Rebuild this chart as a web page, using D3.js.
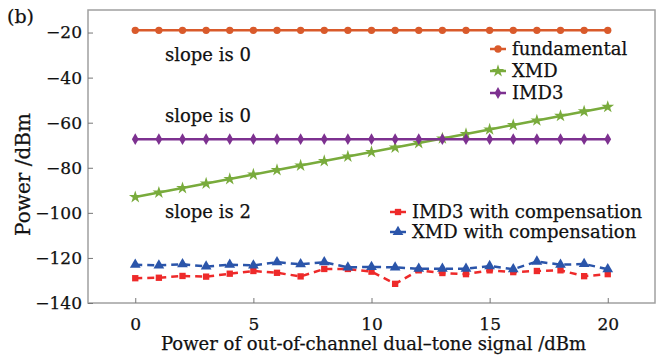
<!DOCTYPE html>
<html>
<head>
<meta charset="utf-8">
<script src="https://cdnjs.cloudflare.com/ajax/libs/d3/7.8.5/d3.min.js"></script>
<style>
body { margin: 0; background: #fff; }
svg text { font-family: "DejaVu Serif", serif; fill: #111; stroke: #111; stroke-width: 0.25px; }
</style>
</head>
<body>
<div id="chart"></div>
<script>
const width = 662, height = 357,
margin = { top: 10, right: 7, bottom: 54, left: 88 };

// data
const xValues = d3.range(0, 21);
const fundamental = [-19, -19, -19, -19, -19, -19, -19, -19, -19, -19, -19, -19, -19, -19, -19, -19, -19, -19, -19, -19, -19];
const imd3 = [-67.3, -67.3, -67.3, -67.3, -67.3, -67.3, -67.3, -67.3, -67.3, -67.3, -67.3, -67.3, -67.3, -67.3, -67.3, -67.3, -67.3, -67.3, -67.3, -67.3, -67.3];
const xmd = [-93, -91, -89, -87, -85, -83, -81, -79, -77, -75, -73, -71, -69, -67, -65, -63, -61, -59, -57, -55, -53];
const imd3Comp = [-129.0, -128.8, -128.0, -128.3, -127.0, -125.8, -126.6, -128.2, -124.9, -124.9, -126.1, -131.5, -125.5, -126.7, -127.2, -125.5, -126.3, -125.8, -125.5, -128.1, -127.2];
const xmdComp = [-123.0, -123.3, -122.8, -123.8, -123.0, -123.3, -121.9, -122.8, -121.9, -124.2, -124.0, -124.2, -124.8, -124.8, -124.8, -123.6, -125.0, -121.6, -123.0, -122.7, -125.0];
const yTicks = [-20, -40, -60, -80, -100, -120, -140];
const xTicks = [0, 5, 10, 15, 20];

const series = [
  { name: 'fundamental', values: fundamental, color: '#d95a2b', symbol: d3.symbolCircle, size: 42, dash: null },
  { name: 'XMD', values: xmd, color: '#79ab3c', symbol: d3.symbolStar, size: 50, dash: null },
  { name: 'IMD3', values: imd3, color: '#7d3190', symbol: d3.symbolDiamond, size: 40, dash: null },
  { name: 'IMD3 with compensation', values: imd3Comp, color: '#ee2a2a', symbol: d3.symbolSquare, size: 40, dash: '7,5' },
  { name: 'XMD with compensation', values: xmdComp, color: '#2b55aa', symbol: d3.symbolTriangle, size: 50, dash: '7,5' }
];

const svg = d3.select('#chart').append('svg')
  .attr('width', width).attr('height', height);

const x = d3.scaleLinear().domain([-2, 22]).range([margin.left, width - margin.right]);
const y = d3.scaleLinear().domain([-140, -10]).range([height - margin.bottom, margin.top]);

// frame
svg.append('rect')
  .attr('x', margin.left).attr('y', margin.top)
  .attr('width', width - margin.left - margin.right)
  .attr('height', height - margin.top - margin.bottom)
  .attr('fill', 'none').attr('stroke', '#a0a0a0').attr('stroke-width', 1.5);

const xAxis = svg.append('g')
  .attr('transform', `translate(0,${height - margin.bottom})`)
  .call(d3.axisBottom(x).tickValues(xTicks).tickSizeInner(-5).tickSizeOuter(0).tickPadding(15));
const yAxis = svg.append('g')
  .attr('transform', `translate(${margin.left},0)`)
  .call(d3.axisLeft(y).tickValues(yTicks).tickSizeInner(-5).tickSizeOuter(0).tickPadding(6)
    .tickFormat(d => d < 0 ? '\u2212' + Math.abs(d) : d));
[xAxis, yAxis].forEach(a => {
  a.select('.domain').remove();
  a.selectAll('.tick line').attr('stroke', '#777');
  a.selectAll('.tick text').style('font-size', '17px').attr('fill', '#111');
});

svg.append('text')
  .attr('x', (x(0) + x(20)) / 2 + 2).attr('y', 350)
  .attr('text-anchor', 'middle').style('font-size', '18px')
  .text('Power of out-of-channel dual\u2013tone signal /dBm');

svg.append('text')
  .attr('transform', `translate(30,${y(-83)}) rotate(-90)`)
  .attr('text-anchor', 'middle').style('font-size', '20px')
  .text('Power /dBm');

svg.append('text').attr('x', 7).attr('y', 23).style('font-size', '19px').text('(b)');

// lines and markers
const line = d3.line().x((d, i) => x(xValues[i])).y(d => y(d));
series.forEach(s => {
  svg.append('path')
    .datum(s.values)
    .attr('d', line)
    .attr('fill', 'none')
    .attr('stroke', s.color)
    .attr('stroke-width', 2.5)
    .attr('stroke-dasharray', s.dash);
  svg.append('g').selectAll('path')
    .data(s.values).enter().append('path')
    .attr('transform', (d, i) => `translate(${x(xValues[i])},${y(d)})`)
    .attr('d', d3.symbol().type(s.symbol).size(s.size))
    .attr('fill', s.color);
});

// annotations
const notes = [
  { text: 'slope is 0', x: 165, y: 61 },
  { text: 'slope is 0', x: 165, y: 122 },
  { text: 'slope is 2', x: 165, y: 218 }
];
svg.selectAll('.note').data(notes).enter().append('text')
  .attr('class', 'note')
  .attr('x', d => d.x).attr('y', d => d.y)
  .style('font-size', '18px')
  .text(d => d.text);

// legends
function legend(items, lx, ly, step) {
  const g = svg.append('g').attr('transform', `translate(${lx},${ly})`);
  items.forEach((s, i) => {
    const row = g.append('g').attr('transform', `translate(0,${i * step})`);
    row.append('line').attr('x1', -8).attr('x2', 8)
      .attr('stroke', s.color).attr('stroke-width', 2.5);
    row.append('path').attr('d', d3.symbol().type(s.symbol).size(s.size)).attr('fill', s.color);
    row.append('text').attr('x', 14).attr('y', 6).style('font-size', '18px').text(s.name);
  });
}
legend(series.slice(0, 3), 498, 49, 22);
legend(series.slice(3), 398, 212, 20);
</script>
</body>
</html>
